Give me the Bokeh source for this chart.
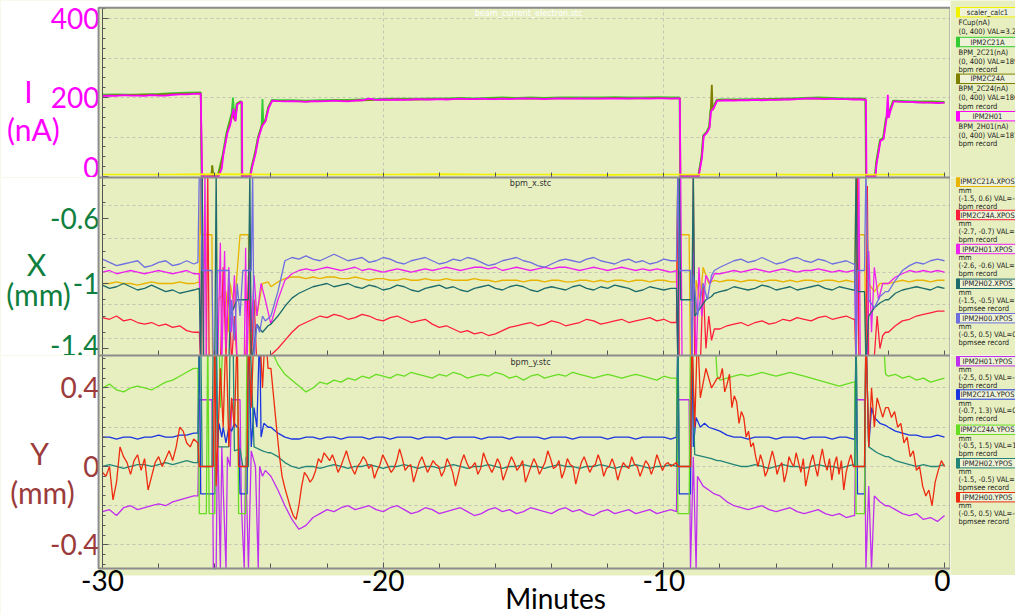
import numpy as np
from bokeh.plotting import figure
from bokeh.models import Range1d, FixedTicker, Label, Spacer
from bokeh.layouts import column, row
from bokeh.embed import file_html
from bokeh.resources import INLINE
from bokeh.core.properties import value

BG = "#e7efc0"
NARROW = "'Liberation Sans Narrow', 'DejaVu Sans Condensed', sans-serif"

# ---------------- data: segments (t_start, t_end, values) or explicit (t, v) points ----------------
# Panel 1: beam current (nA)
fcup = [(-30, 0, [5, 5, 6, 5, 5, 5, 6, 5, 5, 4, 5, 5, 5, 4, 5, 5])]

bpm_2c21 = [
    (-30, -26.5, [207, 208, 207, 208, 209, 211, 212, 213]),
    [(-26.47, 0), (-26.12, 0), (-26.09, 27), (-26.06, 0), (-25.9, 0), (-25.72, 55), (-25.58, 112), (-25.4, 160),
     (-25.35, 200), (-25.3, 145), (-25.22, 185), (-25.1, 190), (-25.05, 190), (-25.04, 0), (-24.75, 0), (-24.69, 25),
     (-24.57, 60), (-24.46, 100), (-24.33, 130), (-24.3, 196), (-24.27, 135), (-24.2, 142), (-24.1, 175), (-23.97, 194)],
    (-23.75, -9.75, [193, 193, 192, 193, 194, 194, 195, 196, 197, 197, 197, 198, 198, 199, 198, 199, 200, 199, 200,
                     199, 200, 200, 200, 200, 201, 200, 200, 201, 200]),
    [(-9.44, 200), (-9.42, 0), (-8.78, 0), (-8.66, 50), (-8.6, 104), (-8.48, 113), (-8.39, 126), (-8.34, 168),
     (-8.24, 176), (-8.12, 194)],
    (-8.0, -3.0, [195, 195, 196, 196, 197, 198, 199, 200, 199, 198, 198]),
    [(-2.82, 197), (-2.8, 0), (-2.48, 0), (-2.44, 35), (-2.4, 52), (-2.3, 93), (-2.19, 98), (-2.09, 147),
     (-1.95, 168), (-1.83, 192)],
    (-1.75, 0, [192, 191, 190, 190, 189]),
]

bpm_2c24 = [
    (-30, -26.5, [205, 206, 206, 207, 207, 209, 210, 211]),
    [(-26.46, 0), (-26.12, 0), (-26.09, 28), (-26.06, 0), (-25.88, 0), (-25.7, 56), (-25.56, 111), (-25.38, 158),
     (-25.27, 141), (-25.21, 183), (-25.09, 189), (-25.04, 189), (-25.03, 0), (-24.74, 0), (-24.68, 24), (-24.56, 58),
     (-24.45, 99), (-24.32, 129), (-24.2, 141), (-24.09, 174), (-23.96, 192)],
    (-23.75, -9.75, [191, 191, 190, 191, 192, 192, 193, 194, 195, 195, 195, 196, 196, 197, 196, 197, 198, 197, 198,
                     197, 198, 198, 198, 198, 199, 198, 198, 199, 198]),
    [(-9.43, 198), (-9.41, 0), (-8.77, 0), (-8.65, 49), (-8.59, 103), (-8.47, 112), (-8.38, 124), (-8.33, 166),
     (-8.29, 232), (-8.26, 168), (-8.23, 174), (-8.11, 193)],
    (-8.0, -3.0, [193, 194, 194, 195, 195, 196, 197, 198, 197, 196, 196]),
    [(-2.81, 195), (-2.79, 0), (-2.47, 0), (-2.43, 33), (-2.39, 49), (-2.29, 91), (-2.18, 96), (-2.08, 145),
     (-1.94, 166), (-1.82, 191)],
    (-1.75, 0, [190, 189, 188, 188, 187]),
]

bpm_2h01 = [
    (-30, -26.5, [204, 205, 204, 206, 205, 205, 204, 206, 205, 205, 207, 208, 208, 209, 210]),
    [(-26.45, 0), (-25.87, 0), (-25.75, 20), (-25.69, 57), (-25.55, 110), (-25.45, 130), (-25.37, 157),
     (-25.33, 172), (-25.29, 150), (-25.26, 140), (-25.2, 182), (-25.08, 188), (-25.03, 188), (-25.02, 0),
     (-24.73, 0), (-24.67, 23), (-24.55, 57), (-24.44, 98), (-24.31, 128), (-24.19, 140), (-24.08, 173),
     (-23.95, 192)],
    (-23.75, -9.5, [191, 190, 191, 190, 189, 191, 190, 191, 192, 191, 190, 192, 193, 197, 194, 195, 194, 195, 194,
                    195, 196, 195, 195, 196, 195, 196, 197, 196, 196, 197, 196, 196, 197, 196, 197, 198, 197, 197,
                    196, 197, 198, 197, 197, 198, 197, 198, 197, 198, 197, 198, 197, 198, 198, 197, 198, 198, 197,
                    198]),
    [(-9.43, 198), (-9.41, 0), (-8.76, 0), (-8.64, 48), (-8.58, 102), (-8.46, 111), (-8.37, 123), (-8.32, 165),
     (-8.22, 173), (-8.1, 192)],
    (-8.0, -3.0, [192, 193, 192, 193, 193, 194, 193, 194, 194, 195, 195, 196, 197, 198, 197, 196, 197, 196, 196,
                  195, 195]),
    [(-2.8, 194), (-2.78, 0), (-2.46, 0), (-2.42, 32), (-2.38, 48), (-2.28, 90), (-2.17, 95), (-2.07, 144),
     (-2.02, 207), (-1.99, 148), (-1.93, 165), (-1.81, 190)],
    (-1.75, 0, [190, 189, 189, 188, 187, 187, 186, 187]),
]

# Panel 2: horizontal positions (mm)
x_2c21 = [
    (-30, -26.75, [-1.0, -1.0, -0.99, -1.0, -1.0, -1.01, -1.0, -0.99, -1.0, -1.0, -1.0, -0.99, -1.0, -1.0]),
    [(-26.55, -0.99), (-26.5, -0.3), (-26.48, -0.7), (-26.1, -0.7), (-26.08, -1.5), (-25.95, -1.5), (-25.9, -1.1),
     (-25.6, -1.05), (-25.5, -1.3), (-25.45, -1.0), (-25.3, -1.15), (-25.1, -0.7), (-24.8, -0.7), (-24.75, -1.5),
     (-24.6, -1.1), (-24.5, -1.2), (-24.3, -1.0), (-24.1, -0.99)],
    (-24.0, -9.75, [-1.02, -0.99, -0.97, -0.96, -0.96, -0.97, -0.96, -0.97, -0.96, -0.96, -0.97, -0.97, -0.96,
                    -0.97, -0.98, -0.97, -0.97, -0.98, -0.98, -0.97, -0.98, -0.98, -0.97, -0.98, -0.98, -0.97, -0.98,
                    -0.98, -0.98, -0.97, -0.98, -0.98, -0.99, -0.98, -0.98, -0.98, -0.99, -0.98, -0.98, -0.99, -0.98,
                    -0.98, -0.99, -0.99, -0.98, -0.98, -0.99, -0.98, -0.99, -0.98, -0.98, -0.99, -0.98, -0.98, -0.99,
                    -0.98, -0.98, -0.99]),
    [(-9.55, -0.99), (-9.5, -0.3), (-9.45, -0.7), (-9.1, -0.7), (-9.05, -1.5), (-8.9, -1.5), (-8.85, -0.98),
     (-8.7, -1.1), (-8.6, -0.9), (-8.4, -1.0), (-8.2, -0.98)],
    (-8.0, -3.25, [-0.99, -0.98, -0.98, -0.99, -0.98, -0.98, -0.99, -0.98, -0.98, -0.99, -0.98, -0.99, -0.98,
                   -0.98, -0.99, -0.98, -0.98, -0.99, -0.98, -0.99]),
    [(-3.2, -0.99), (-3.15, -0.3), (-3.1, -0.7), (-2.85, -0.7), (-2.8, -1.5), (-2.7, -1.0), (-2.5, -1.05),
     (-2.3, -1.0), (-2.1, -1.0)],
    (-2.0, 0, [-1.0, -0.99, -0.98, -0.99, -0.98, -0.98, -0.99, -0.98, -0.98]),
]

x_2c24 = [
    (-30, -26.75, [-1.21, -1.22, -1.2, -1.23, -1.22, -1.24, -1.25, -1.24, -1.26, -1.25, -1.27, -1.26, -1.29, -1.3]),
    [(-26.55, -1.3), (-26.5, -1.5), (-26.45, -0.3), (-26.4, -1.5), (-26.3, -1.5), (-26.25, -0.3), (-26.2, -1.5),
     (-25.8, -1.5), (-25.7, -0.9), (-25.6, -1.45), (-25.5, -1.0), (-25.4, -1.5), (-25.3, -1.2), (-25.2, -1.5),
     (-24.9, -1.5), (-24.8, -0.95), (-24.7, -1.5), (-24.6, -1.1), (-24.5, -1.5), (-24.3, -1.5), (-24.1, -1.46)],
    (-24.0, -9.75, [-1.44, -1.4, -1.35, -1.3, -1.26, -1.24, -1.22, -1.2, -1.21, -1.19, -1.2, -1.22, -1.21, -1.19,
                    -1.2, -1.22, -1.23, -1.21, -1.2, -1.22, -1.24, -1.23, -1.22, -1.25, -1.27, -1.26, -1.28, -1.3,
                    -1.29, -1.31, -1.3, -1.32, -1.31, -1.29, -1.27, -1.26, -1.25, -1.24, -1.26, -1.25, -1.23, -1.24,
                    -1.26, -1.25, -1.24, -1.22, -1.23, -1.25, -1.24, -1.23, -1.22, -1.24, -1.23, -1.22, -1.21, -1.23,
                    -1.22, -1.24]),
    [(-9.55, -1.24), (-9.5, -0.3), (-9.45, -1.5), (-9.0, -1.5), (-8.95, -0.35), (-8.9, -1.5), (-8.7, -1.5),
     (-8.6, -1.0), (-8.5, -1.4), (-8.4, -1.2), (-8.3, -1.35), (-8.2, -1.28)],
    (-8.0, -3.25, [-1.28, -1.26, -1.25, -1.24, -1.26, -1.24, -1.23, -1.25, -1.24, -1.22, -1.23, -1.21, -1.22,
                   -1.23, -1.21, -1.2, -1.22, -1.21, -1.2, -1.22]),
    [(-3.2, -1.22), (-3.15, -1.5), (-3.1, -0.3), (-3.05, -1.5), (-2.8, -1.5), (-2.75, -0.4), (-2.7, -1.5),
     (-2.5, -1.45), (-2.4, -1.2), (-2.3, -1.4), (-2.2, -1.32), (-2.1, -1.3)],
    (-2.0, 0, [-1.3, -1.26, -1.23, -1.22, -1.2, -1.19, -1.18, -1.17, -1.17]),
]

x_2h01 = [
    (-30, -26.75, [-0.93, -0.92, -0.94, -0.93, -0.92, -0.93, -0.94, -0.93, -0.92, -0.93, -0.94, -0.93, -0.92,
                   -0.94]),
    [(-26.55, -0.94), (-26.5, -1.5), (-26.4, -1.5), (-26.35, -0.3), (-26.3, -1.5), (-25.9, -1.5), (-25.8, -0.75),
     (-25.75, -1.5), (-25.65, -0.8), (-25.6, -1.4), (-25.5, -0.9), (-25.4, -1.3), (-25.3, -0.95), (-25.2, -1.5),
     (-24.95, -1.5), (-24.9, -0.78), (-24.85, -1.5), (-24.75, -0.85), (-24.7, -1.3), (-24.6, -0.95), (-24.5, -1.2),
     (-24.35, -1.0), (-24.2, -1.1)],
    (-24.0, -9.75, [-1.25, -1.1, -0.98, -0.94, -0.92, -0.91, -0.92, -0.91, -0.9, -0.91, -0.92, -0.91, -0.9, -0.92,
                    -0.91, -0.92, -0.93, -0.92, -0.91, -0.92, -0.93, -0.92, -0.91, -0.92, -0.91, -0.9, -0.91, -0.92,
                    -0.91, -0.9, -0.9, -0.91, -0.9, -0.92, -0.91, -0.9, -0.91, -0.92, -0.91, -0.9, -0.91, -0.9, -0.9,
                    -0.91, -0.92, -0.91, -0.9, -0.91, -0.92, -0.91, -0.9, -0.91, -0.92, -0.91, -0.92, -0.91, -0.92,
                    -0.93]),
    [(-9.55, -0.92), (-9.5, -1.5), (-9.4, -0.3), (-9.35, -1.5), (-9.0, -1.5), (-8.95, -0.8), (-8.85, -1.5),
     (-8.75, -0.9), (-8.65, -1.2), (-8.5, -0.95), (-8.35, -1.0), (-8.2, -0.94)],
    (-8.0, -3.25, [-0.94, -0.93, -0.92, -0.93, -0.92, -0.91, -0.92, -0.93, -0.92, -0.91, -0.92, -0.93, -0.92,
                   -0.92, -0.91, -0.92, -0.93, -0.92, -0.93, -0.92]),
    [(-3.2, -0.92), (-3.15, -1.5), (-3.05, -0.35), (-3.0, -1.5), (-2.75, -1.5), (-2.7, -0.8), (-2.6, -1.3),
     (-2.5, -0.9), (-2.35, -1.1), (-2.2, -1.0), (-2.1, -1.0)],
    (-2.0, 0, [-1.0, -0.96, -0.94, -0.92, -0.93, -0.92, -0.93, -0.92, -0.93]),
]

x_2h02 = [
    (-30, -26.75, [-1.01, -1.03, -1.02, -1.0, -1.02, -1.04, -1.03, -1.01, -1.03, -1.05, -1.04, -1.06, -1.05, -1.04]),
    [(-26.55, -1.03), (-26.5, -1.5), (-26.45, -0.3), (-26.4, -1.5), (-26.0, -1.5), (-25.95, -0.3), (-25.9, -1.5),
     (-25.5, -1.5), (-25.45, -1.2), (-25.2, -1.1), (-24.8, -1.1), (-24.75, -0.3), (-24.7, -1.5), (-24.5, -1.25),
     (-24.3, -1.3), (-24.1, -1.26)],
    (-24.0, -9.75, [-1.25, -1.2, -1.14, -1.09, -1.06, -1.04, -1.02, -1.01, -1.0, -1.02, -1.01, -1.0, -1.02, -1.03,
                    -1.01, -1.02, -1.04, -1.03, -1.01, -1.02, -1.04, -1.05, -1.03, -1.02, -1.01, -1.03, -1.02, -1.04,
                    -1.05, -1.03, -1.02, -1.01, -1.03, -1.04, -1.02, -1.01, -1.02, -1.04, -1.05, -1.03, -1.02, -1.03,
                    -1.04, -1.02, -1.01, -1.03, -1.04, -1.02, -1.03, -1.01, -1.02, -1.03, -1.05, -1.04, -1.02, -1.03,
                    -1.04, -1.03]),
    [(-9.55, -1.03), (-9.5, -1.5), (-9.45, -0.3), (-9.4, -1.1), (-9.0, -1.1), (-8.95, -0.3), (-8.9, -1.2),
     (-8.7, -1.15), (-8.5, -1.1), (-8.3, -1.08), (-8.2, -1.06)],
    (-8.0, -3.25, [-1.05, -1.04, -1.02, -1.03, -1.04, -1.03, -1.01, -1.02, -1.04, -1.03, -1.02, -1.04, -1.03, -1.02,
                   -1.01, -1.03, -1.04, -1.02, -1.03, -1.04]),
    [(-3.2, -1.04), (-3.15, -0.3), (-3.1, -1.05), (-2.85, -1.05), (-2.8, -1.5), (-2.7, -1.2), (-2.5, -1.15),
     (-2.3, -1.12), (-2.1, -1.1)],
    (-2.0, 0, [-1.1, -1.06, -1.04, -1.03, -1.02, -1.03, -1.04, -1.02, -1.03]),
]

x_2h00 = [
    (-30, -26.75, [-0.85, -0.87, -0.89, -0.88, -0.87, -0.86, -0.9, -0.89, -0.87, -0.86, -0.89, -0.88, -0.86, -0.88]),
    [(-26.6, -0.87), (-26.55, -0.3), (-26.5, -0.3), (-26.45, -0.92), (-26.1, -0.92), (-26.05, -1.5), (-25.95, -1.5),
     (-25.9, -0.92), (-25.5, -0.92), (-25.45, -1.3), (-25.4, -1.1), (-25.3, -1.35), (-25.2, -1.0), (-25.1, -1.2),
     (-25.0, -0.92), (-24.7, -0.92), (-24.65, -0.3), (-24.6, -1.45), (-24.5, -1.25), (-24.4, -1.3), (-24.3, -1.2),
     (-24.2, -1.23)],
    (-24.0, -9.75, [-1.2, -1.05, -0.86, -0.84, -0.85, -0.83, -0.85, -0.86, -0.84, -0.82, -0.84, -0.86, -0.85, -0.84,
                    -0.87, -0.86, -0.84, -0.85, -0.87, -0.88, -0.86, -0.85, -0.84, -0.86, -0.88, -0.87, -0.85, -0.86,
                    -0.84, -0.85, -0.87, -0.89, -0.88, -0.86, -0.85, -0.84, -0.86, -0.87, -0.89, -0.9, -0.88, -0.86,
                    -0.85, -0.86, -0.87, -0.85, -0.84, -0.86, -0.87, -0.88, -0.86, -0.85, -0.87, -0.86, -0.88, -0.87,
                    -0.85, -0.86]),
    [(-9.55, -0.86), (-9.5, -0.3), (-9.45, -0.92), (-9.05, -0.92), (-9.0, -1.5), (-8.95, -0.95), (-8.8, -1.2),
     (-8.6, -1.0), (-8.45, -1.1), (-8.3, -0.95), (-8.2, -0.92)],
    (-8.0, -3.25, [-0.9, -0.88, -0.86, -0.85, -0.87, -0.86, -0.84, -0.86, -0.88, -0.87, -0.85, -0.84, -0.86, -0.87,
                   -0.85, -0.86, -0.88, -0.87, -0.86, -0.88]),
    [(-3.2, -0.88), (-3.15, -1.5), (-3.1, -0.92), (-2.85, -0.92), (-2.8, -0.3), (-2.7, -1.1), (-2.5, -1.15),
     (-2.3, -1.08), (-2.1, -1.05)],
    (-2.0, 0, [-1.05, -0.98, -0.92, -0.89, -0.87, -0.88, -0.86, -0.85, -0.86]),
]

# Panel 3: vertical positions (mm)
y_2h01 = [
    (-30, -26.75, [-0.23, -0.22, -0.25, -0.21, -0.2, -0.22, -0.21, -0.2, -0.19, -0.2, -0.18, -0.17, -0.16, -0.15]),
    [(-26.6, -0.15), (-26.55, 0.34), (-26.1, 0.34), (-26.05, -0.52), (-25.95, -0.52), (-25.9, 0.2), (-25.8, -0.52),
     (-25.75, 0.1), (-25.6, -0.52), (-25.55, 0.05), (-25.45, 0.0), (-25.4, 0.34), (-25.1, 0.34), (-25.05, -0.2),
     (-24.95, -0.52), (-24.9, 0.05), (-24.8, -0.52), (-24.7, 0.08), (-24.55, 0.0), (-24.45, -0.52), (-24.4, 0.0),
     (-24.3, -0.05), (-24.2, -0.02)],
    (-24.0, -9.75, [-0.05, -0.12, -0.2, -0.27, -0.32, -0.3, -0.26, -0.24, -0.22, -0.23, -0.21, -0.2, -0.22, -0.21,
                    -0.2, -0.22, -0.23, -0.21, -0.2, -0.22, -0.24, -0.23, -0.21, -0.22, -0.24, -0.23, -0.22, -0.21,
                    -0.23, -0.25, -0.24, -0.22, -0.21, -0.23, -0.22, -0.24, -0.23, -0.21, -0.22, -0.23, -0.24, -0.22,
                    -0.21, -0.23, -0.22, -0.24, -0.25, -0.23, -0.22, -0.24, -0.23, -0.22, -0.24, -0.23, -0.22, -0.24,
                    -0.23, -0.22]),
    [(-9.55, -0.23), (-9.5, 0.34), (-9.1, 0.34), (-9.05, -0.52), (-8.95, 0.05), (-8.85, -0.52), (-8.8, -0.05),
     (-8.6, -0.1), (-8.4, -0.12), (-8.2, -0.14)],
    (-8.0, -3.25, [-0.15, -0.18, -0.2, -0.21, -0.22, -0.21, -0.2, -0.22, -0.23, -0.22, -0.21, -0.23, -0.24, -0.23,
                   -0.22, -0.24, -0.25, -0.24, -0.26, -0.25]),
    [(-3.2, -0.25), (-3.15, 0.34), (-2.85, 0.34), (-2.8, -0.52), (-2.7, -0.1), (-2.6, -0.52), (-2.5, -0.15),
     (-2.3, -0.18), (-2.1, -0.2)],
    (-2.0, 0, [-0.2, -0.22, -0.24, -0.25, -0.24, -0.27, -0.26, -0.28, -0.25]),
]

y_2c21 = [
    (-30, -26.75, [0.15, 0.15, 0.14, 0.15, 0.15, 0.14, 0.15, 0.15, 0.16, 0.15, 0.15, 0.16, 0.16, 0.17]),
    [(-26.6, 0.17), (-26.55, 0.7), (-26.5, -0.14), (-26.0, -0.14), (-25.95, 0.7), (-25.9, 0.1), (-25.85, 0.22),
     (-25.75, 0.15), (-25.7, 0.2), (-25.6, 0.12), (-25.5, 0.2), (-25.4, 0.18), (-25.3, 0.22), (-25.2, 0.2),
     (-25.15, 0.2), (-25.1, -0.14), (-24.85, -0.14), (-24.8, 0.7), (-24.7, 0.1), (-24.6, 0.3), (-24.5, 0.2),
     (-24.4, 0.7), (-24.35, 0.15), (-24.25, 0.22), (-24.1, 0.2)],
    (-24.0, -9.75, [0.2, 0.17, 0.15, 0.14, 0.14, 0.15, 0.15, 0.14, 0.15, 0.15, 0.14, 0.15, 0.15, 0.15, 0.14, 0.15,
                    0.15, 0.14, 0.15, 0.15, 0.15, 0.14, 0.15, 0.15, 0.15, 0.14, 0.15, 0.15, 0.15, 0.15, 0.14, 0.15,
                    0.15, 0.15, 0.14, 0.15, 0.15, 0.15, 0.15, 0.14, 0.15, 0.15, 0.15, 0.14, 0.15, 0.15, 0.15, 0.15,
                    0.14, 0.15, 0.15, 0.15, 0.14, 0.15, 0.15, 0.15, 0.15, 0.14]),
    [(-9.55, 0.15), (-9.5, 0.7), (-9.45, -0.14), (-9.05, -0.14), (-9.0, 0.7), (-8.95, 0.1), (-8.85, 0.25),
     (-8.7, 0.2), (-8.55, 0.22), (-8.4, 0.2), (-8.2, 0.19)],
    (-8.0, -3.25, [0.18, 0.16, 0.15, 0.15, 0.14, 0.15, 0.15, 0.15, 0.14, 0.15, 0.15, 0.15, 0.14, 0.15, 0.15, 0.15,
                   0.14, 0.15, 0.15, 0.14]),
    [(-3.2, 0.14), (-3.15, 0.7), (-3.1, -0.14), (-2.85, -0.14), (-2.8, 0.7), (-2.7, 0.1), (-2.6, 0.3),
     (-2.5, 0.25), (-2.3, 0.22), (-2.1, 0.21)],
    (-2.0, 0, [0.2, 0.18, 0.17, 0.16, 0.16, 0.15, 0.15, 0.16, 0.15]),
]

y_2c24 = [
    (-30, -26.75, [0.4, 0.42, 0.39, 0.38, 0.4, 0.41, 0.4, 0.39, 0.41, 0.43, 0.44, 0.46, 0.48, 0.5]),
    [(-26.6, 0.5), (-26.55, -0.24), (-26.3, -0.24), (-26.25, 0.7), (-26.2, -0.24), (-26.0, -0.24), (-25.95, 0.7),
     (-25.85, 0.7), (-25.8, 0.3), (-25.7, 0.7), (-25.2, 0.7), (-25.15, -0.24), (-24.9, -0.24), (-24.85, 0.7),
     (-24.1, 0.7)],
    (-24.0, -9.75, [0.6, 0.52, 0.47, 0.44, 0.41, 0.38, 0.4, 0.43, 0.42, 0.44, 0.43, 0.45, 0.44, 0.46, 0.45, 0.47,
                    0.46, 0.45, 0.47, 0.46, 0.48, 0.47, 0.46, 0.45, 0.47, 0.46, 0.48, 0.47, 0.45, 0.46, 0.47, 0.46,
                    0.48, 0.47, 0.45, 0.46, 0.44, 0.46, 0.47, 0.45, 0.46, 0.47, 0.46, 0.48, 0.47, 0.46, 0.45, 0.46,
                    0.47, 0.46, 0.45, 0.46, 0.47, 0.46, 0.45, 0.44, 0.46, 0.45]),
    [(-9.55, 0.45), (-9.5, -0.24), (-9.1, -0.24), (-9.05, 0.7), (-8.2, 0.7), (-8.1, 0.46)],
    (-8.0, -3.25, [0.44, 0.45, 0.46, 0.47, 0.46, 0.47, 0.48, 0.47, 0.46, 0.47, 0.48, 0.47, 0.46, 0.45, 0.44, 0.43,
                   0.42, 0.41, 0.42, 0.43]),
    [(-3.2, 0.43), (-3.15, -0.24), (-2.85, -0.24), (-2.8, 0.7), (-2.2, 0.7), (-2.1, 0.47)],
    (-2.0, 0, [0.46, 0.47, 0.45, 0.46, 0.44, 0.45, 0.43, 0.44, 0.45]),
]

y_2h02 = [
    (-30, -26.75, [0.0, 0.01, 0.0, -0.01, 0.0, 0.01, 0.01, 0.0, 0.01, 0.02, 0.01, 0.02, 0.03, 0.02]),
    [(-26.6, 0.02), (-26.55, 0.7), (-26.5, 0.7), (-26.45, 0.0), (-26.1, 0.0), (-26.05, 0.7), (-25.95, 0.7),
     (-25.9, 0.1), (-25.5, 0.1), (-25.45, 0.7), (-25.35, 0.7), (-25.3, 0.08), (-25.1, 0.09), (-25.0, 0.0),
     (-24.8, 0.0), (-24.75, 0.7), (-24.6, 0.1), (-24.3, 0.08), (-24.1, 0.07)],
    (-24.0, -9.75, [0.07, 0.05, 0.02, 0.0, -0.01, 0.0, 0.0, -0.01, 0.0, 0.01, 0.0, -0.01, 0.0, 0.0, 0.01, 0.0, -0.01,
                    0.0, 0.0, 0.01, 0.0, -0.01, 0.0, 0.0, -0.01, 0.0, 0.01, 0.0, -0.01, 0.0, 0.0, 0.01, 0.0, -0.01,
                    0.0, 0.0, 0.01, 0.0, 0.0, -0.01, 0.0, 0.01, 0.0, 0.0, -0.01, 0.0, 0.0, 0.01, 0.0, -0.01, 0.0, 0.0,
                    0.01, 0.0, -0.01, 0.0, 0.0, 0.01]),
    [(-9.55, 0.0), (-9.5, 0.7), (-9.45, 0.0), (-9.05, 0.0), (-9.0, 0.7), (-8.9, 0.06), (-8.6, 0.05), (-8.3, 0.04),
     (-8.1, 0.03)],
    (-8.0, -3.25, [0.03, 0.02, 0.01, 0.0, 0.0, 0.01, 0.0, -0.01, 0.0, 0.01, 0.0, 0.0, -0.01, 0.0, 0.01, 0.0, 0.0,
                   -0.01, 0.0, 0.01]),
    [(-3.2, 0.0), (-3.15, 0.7), (-3.1, 0.0), (-2.85, 0.0), (-2.8, 0.7), (-2.7, 0.1), (-2.4, 0.07), (-2.1, 0.05)],
    (-2.0, 0, [0.05, 0.03, 0.02, 0.01, 0.0, 0.01, 0.0, 0.0, 0.01]),
]

y_2h00 = [
    (-30, -26.75, [-0.03, -0.05, 0.0, -0.17, -0.08, 0.1, 0.05, 0.02, -0.04, 0.03, 0.06, -0.02, 0.04, -0.12, -0.05,
                   0.02, 0.05, 0.0, 0.04, 0.08, 0.03, 0.1, 0.2, 0.18, 0.12, 0.1, 0.14]),
    [(-26.6, 0.12), (-26.55, 0.0), (-26.05, 0.0), (-26.0, 0.7), (-25.95, -0.1), (-25.8, 0.5), (-25.7, 0.2),
     (-25.6, 0.7), (-25.5, 0.1), (-25.4, 0.35), (-25.3, 0.2), (-25.2, 0.7), (-25.15, 0.0), (-24.85, 0.0),
     (-24.8, 0.7), (-24.7, 0.3), (-24.6, 0.7), (-24.4, 0.7), (-24.3, 0.4), (-24.2, 0.7), (-24.1, 0.5)],
    (-24.0, -9.75, [0.5, 0.35, 0.2, 0.06, -0.05, -0.11, -0.16, -0.21, -0.25, -0.27, -0.2, -0.1, -0.03, -0.05, -0.08,
                    -0.06, -0.02, 0.04, 0.02, 0.07, 0.05, 0.03, 0.06, 0.02, -0.03, 0.0, 0.04, 0.08, 0.03, -0.01, -0.04,
                    0.0, 0.02, 0.05, 0.03, -0.01, 0.01, -0.06, -0.02, 0.01, 0.06, 0.03, 0.0, -0.03, -0.01, 0.03, 0.09,
                    0.04, -0.02, 0.0, 0.01, -0.08, -0.03, 0.02, 0.05, 0.01, -0.03, 0.0, 0.03, 0.01, 0.0, -0.05, -0.02,
                    0.04, 0.01, -0.03, -0.1, -0.04, 0.02, 0.06, 0.02, -0.01, 0.0, 0.02, -0.04, -0.01, 0.07, 0.03, 0.0,
                    -0.03, 0.0, 0.04, 0.01, -0.07, -0.03, 0.01, 0.05, 0.02, -0.02, 0.0, 0.03, -0.08, -0.04, 0.0, 0.04,
                    0.01, -0.04, -0.01, 0.02, 0.08, 0.04, -0.01, 0.0, 0.03, -0.06, -0.02, 0.04, 0.01, 0.0, -0.09,
                    -0.03, 0.02, 0.05, 0.01, -0.03, 0.0, 0.01, 0.06, 0.02, -0.05, -0.01, 0.0, 0.04, 0.0, -0.07, -0.02,
                    0.02, 0.0, -0.01, 0.05, 0.01, 0.0, -0.05, -0.01, 0.03, 0.01, -0.04, 0.0, 0.06, 0.02, -0.02, 0.01,
                    0.02, 0.0]),
    [(-9.55, 0.02), (-9.5, 0.0), (-9.05, 0.0), (-9.0, 0.7), (-8.9, 0.2), (-8.8, 0.7), (-8.7, 0.35), (-8.5, 0.5),
     (-8.3, 0.4), (-8.1, 0.45)],
    (-8.0, -3.25, [0.45, 0.5, 0.38, 0.42, 0.47, 0.3, 0.36, 0.33, 0.22, 0.28, 0.25, 0.15, 0.18, 0.1, 0.12, 0.05, 0.0,
                   0.06, 0.02, -0.05, -0.02, 0.03, 0.08, 0.03, -0.04, 0.0, 0.02, -0.08, -0.03, 0.05, 0.02, 0.0, 0.07,
                   0.02, -0.03, 0.04, -0.1, -0.04, 0.02, 0.06, 0.0, -0.05, 0.03, 0.09, 0.02, -0.02, 0.04, -0.07, 0.01,
                   0.05, -0.04, 0.03, -0.12, -0.03, 0.02, 0.06, 0.0]),
    [(-3.2, 0.0), (-3.15, 0.0), (-2.85, 0.0), (-2.8, 0.7), (-2.7, 0.1), (-2.6, 0.4), (-2.5, 0.2), (-2.4, 0.35),
     (-2.2, 0.25), (-2.1, 0.3)],
    (-2.0, 0, [0.3, 0.25, 0.28, 0.2, 0.22, 0.12, 0.15, 0.05, 0.08, -0.02, 0.0, -0.1, -0.15, -0.12, -0.2, -0.08,
               -0.02, 0.03, 0.0]),
]

# Axis tick labels
cur_ticks = {0: "0", 200: "200", 400: "400"}
x_ticks = {-1.4: "-1.4", -1.0: "-1", -0.6: "-0.6"}
y_ticks = {-0.4: "-0.4", 0.0: "0", 0.4: "0.4"}
t_ticks = {-30: "-30", -20: "-20", -10: "-10", 0: "0"}

# Legend texts
cur_names = ["scaler_calc1", "IPM2C21A", "IPM2C24A", "IPM2H01"]
cur_lines = [["FCup(nA)", "(0, 400) VAL=3.2001"],
             ["BPM_2C21(nA)", "(0, 400) VAL=189.88", "bpm record"],
             ["BPM_2C24(nA)", "(0, 400) VAL=186.48", "bpm record"],
             ["BPM_2H01(nA)", "(0, 400) VAL=187.42", "bpm record"]]
x_names = ["IPM2C21A.XPOS", "IPM2C24A.XPOS", "IPM2H01.XPOS", "IPM2H02.XPOS", "IPM2H00.XPOS"]
x_lines = [["mm", "(-1.5, 0.6) VAL=-0.503", "bpm record"],
           ["mm", "(-2.7, -0.7) VAL=-2.190", "bpm record"],
           ["mm", "(-2.6, -0.6) VAL=-1.600", "bpm record"],
           ["mm", "(-1.5, -0.5) VAL=-1.083", "bpmsee record"],
           ["mm", "(-0.5, 0.5) VAL=0.0636", "bpmsee record"]]
y_names = ["IPM2H01.YPOS", "IPM2C21A.YPOS", "IPM2C24A.YPOS", "IPM2H02.YPOS", "IPM2H00.YPOS"]
y_lines = [["mm", "(-2.5, 0.5) VAL=-1.6107", "bpm record"],
           ["mm", "(-0.7, 1.3) VAL=0.5990", "bpm record"],
           ["mm", "(-0.5, 1.5) VAL=1.37927", "bpm record"],
           ["mm", "(-1.5, -0.5) VAL=-0.903", "bpmsee record"],
           ["mm", "(-0.5, 0.5) VAL=-0.0332", "bpmsee record"]]

cur_colors = ["#f2f200", "#33cc33", "#808000", "#ff00ff"]
x_colors = ["#e8b400", "#ff1e3c", "#ee22ee", "#1d6b6b", "#6f6fe0"]
y_colors = ["#c02ef0", "#1a35e0", "#66dd22", "#238577", "#ee2a10"]

T0, T1 = -30, 0.2137       # time extent of the plotting region
XL = -33.634               # left edge of figure frame (room for the axis texts)
XE = -30.14                # left edge of the coloured plotting region


def build(parts):
    ts, vs = [], []
    for part in parts:
        if isinstance(part, tuple):
            t0, t1, vals = part
            ts.extend(np.linspace(t0, t1, len(vals)).tolist())
            vs.extend(vals)
        else:
            for t, v in part:
                ts.append(t)
                vs.append(v)
    return ts, vs


def make_panel(h, yr, reg, white_below, ticks, yminor, ygrid, ycolor, t_labels):
    p = figure(width=950, height=h, x_range=Range1d(XL, T1), y_range=Range1d(*yr),
               output_backend="svg", toolbar_location=None, min_border=0,
               background_fill_color=BG, border_fill_color="white", outline_line_color=None)
    # white margins around the coloured plotting region
    p.quad(left=[XL], right=[XE], bottom=[yr[0]], top=[yr[1]], fill_color="white", line_alpha=0)
    if reg[1] < yr[1]:
        p.quad(left=[XL], right=[T1], bottom=[reg[1]], top=[yr[1]], fill_color="white", line_alpha=0)
    if white_below is not None:
        p.quad(left=[XL], right=[T1], bottom=[yr[0]], top=[white_below], fill_color="white", line_alpha=0)
    # x axis
    xa = p.xaxis[0]
    xa.fixed_location = reg[0]
    xa.bounds = (T0, 0)
    if t_labels:
        xa.ticker = FixedTicker(ticks=list(t_labels.keys()), minor_ticks=list(range(-30, 1, 2)))
        xa.major_label_overrides = t_labels
        xa.major_label_text_font = "Lato"
        xa.major_label_text_font_size = "28px"
        xa.major_label_text_color = "black"
        xa.major_label_standoff = 1
    else:
        xa.ticker = FixedTicker(ticks=[], minor_ticks=list(range(-30, 1, 2)))
    xa.axis_line_color = "#555555"
    xa.major_tick_in = 6
    xa.major_tick_out = 0
    xa.minor_tick_in = 5
    xa.minor_tick_out = 0
    xa.major_tick_line_color = "#555555"
    xa.minor_tick_line_color = "#555555"
    # y axis
    ya = p.yaxis[0]
    ya.fixed_location = T0
    ya.bounds = reg
    ya.ticker = FixedTicker(ticks=list(ticks.keys()), minor_ticks=yminor)
    ya.major_label_overrides = ticks
    ya.axis_line_color = "#555555"
    ya.major_tick_in = 6
    ya.major_tick_out = 0
    ya.minor_tick_in = 3
    ya.minor_tick_out = 0
    ya.major_tick_line_color = "#555555"
    ya.minor_tick_line_color = "#555555"
    ya.major_label_text_font = "Lato"
    ya.major_label_text_font_size = "28px"
    ya.major_label_text_color = ycolor
    ya.major_label_standoff = 3
    p.xgrid.ticker = FixedTicker(ticks=[-20, -10])
    p.ygrid.ticker = FixedTicker(ticks=ygrid)
    p.grid.grid_line_color = "#c4c4b4"
    p.grid.grid_line_dash = "3 3"
    return p


def outline(p, reg):
    r = p.quad(left=[XE], right=[T1], bottom=[reg[0]], top=[reg[1]], fill_alpha=0,
               line_color="#8c8c8c", line_width=2)
    r.level = "annotation"


def add_series(p, parts, color, width=1.3):
    t, v = build(parts)
    p.line(t, v, line_color=color, line_width=width)


def add_text(p, x, y, text, color, size="30px", font="Lato"):
    p.add_layout(Label(x=x, y=y, text=text, text_font=font, text_font_size=size, text_color=color,
                       text_align="center", text_baseline="middle"))


def make_legend(h, names, colors, lines, header_ys, offsets):
    lg = figure(width=65, height=h, x_range=Range1d(0, 65), y_range=Range1d(h, 0),
                output_backend="svg", toolbar_location=None, min_border=0,
                x_axis_location=None, y_axis_location=None,
                background_fill_color=BG, border_fill_color=BG, outline_line_color=None)
    lg.grid.visible = False
    n = len(names)
    lg.quad(left=[6] * n, right=[80] * n, top=[y - 4.7 for y in header_ys], bottom=[y + 4.7 for y in header_ys],
            fill_color="#eef3d8", line_color=colors, line_width=1)
    lg.quad(left=[6] * n, right=[9] * n, top=[y - 4.7 for y in header_ys], bottom=[y + 4.7 for y in header_ys],
            fill_color=colors, line_color=colors)
    lg.text(x=[37] * n, y=header_ys, text=names, text_font=value(NARROW), text_font_size=value("7.5px"),
            text_color="#222222", text_align="center", text_baseline="middle")
    xs, ys, tx = [], [], []
    for hy, ls in zip(header_ys, lines):
        for off, s in zip(offsets, ls):
            xs.append(8)
            ys.append(hy + off)
            tx.append(s)
    lg.text(x=xs, y=ys, text=tx, text_font=value(NARROW), text_font_size=value("7.5px"),
            text_color="#1a1a1a", text_align="left", text_baseline="middle")
    return lg


# ---------------- Panel 1 ----------------
reg1 = (-2.53, 427.1)
p1 = make_panel(177, (-2.53, 445.6), reg1, None, cur_ticks, list(range(0, 426, 25)), [100, 200, 300, 400],
                "#ff00ff", None)
add_series(p1, bpm_2c21, cur_colors[1], 1.8)
add_series(p1, bpm_2c24, cur_colors[2], 1.8)
add_series(p1, bpm_2h01, cur_colors[3], 1.8)
add_series(p1, fcup, cur_colors[0], 1.6)
outline(p1, reg1)
add_text(p1, -32.64, 217.7, "I", "#ff00ff")
add_text(p1, -32.46, 121.5, "(nA)", "#ff00ff")
add_text(p1, -14.82, 415.2, "beam_current_electron.stc", "white", "9px", NARROW)

# ---------------- Panel 2 ----------------
reg2 = (-1.443, -0.3477)
p2 = make_panel(178, reg2, reg2, None, x_ticks, [round(-1.4 + 0.1 * i, 2) for i in range(11)],
                [-0.52, -0.72, -0.93, -1.13, -1.34], "#0f7f40", None)
for parts, c in zip([x_2c21, x_2c24, x_2h01, x_2h02, x_2h00], x_colors):
    add_series(p2, parts, c)
outline(p2, reg2)
add_text(p2, -32.35, -0.877, "X", "#0f7f40")
add_text(p2, -32.28, -1.0615, "(mm)", "#0f7f40")
add_text(p2, -14.75, -0.3846, "bpm_x.stc", "#333333", "9px", NARROW)

# ---------------- Panel 3 ----------------
reg3 = (-0.52, 0.5656)
p3 = make_panel(259, (-0.7542, 0.5656), reg3, -0.555, y_ticks, [round(-0.5 + 0.05 * i, 2) for i in range(22)],
                [-0.4, -0.2, 0.0, 0.2, 0.4], "#9b3b3b", t_ticks)
for parts, c in zip([y_2h01, y_2c21, y_2c24, y_2h02, y_2h00], y_colors):
    add_series(p3, parts, c)
outline(p3, reg3)
add_text(p3, -32.24, 0.0713, "Y", "#9b3b3b")
add_text(p3, -32.14, -0.1325, "(mm)", "#9b3b3b")
add_text(p3, -14.75, 0.535, "bpm_y.stc", "#333333", "9px", NARROW)
add_text(p3, -13.86, -0.6726, "Minutes", "black", "28px")

# ---------------- Legends ----------------
lg1 = make_legend(177, cur_names, cur_colors, cur_lines, [11.7, 41.5, 78.3, 115.7], [10, 19, 27.5])
lg2 = make_legend(178, x_names, x_colors, x_lines, [4.3, 37.5, 71.5, 106.3, 140.7], [8.3, 16.2, 24.3])
lg3 = make_legend(220, y_names, y_colors, y_lines, [5.7, 39.0, 74.3, 107.7, 141.7], [8.6, 15.8, 23.8])

layout = column(row(p1, lg1), row(p2, lg2), row(p3, column(lg3, Spacer(width=65, height=39))))

open("out.html", "w").write(file_html(layout, INLINE))
